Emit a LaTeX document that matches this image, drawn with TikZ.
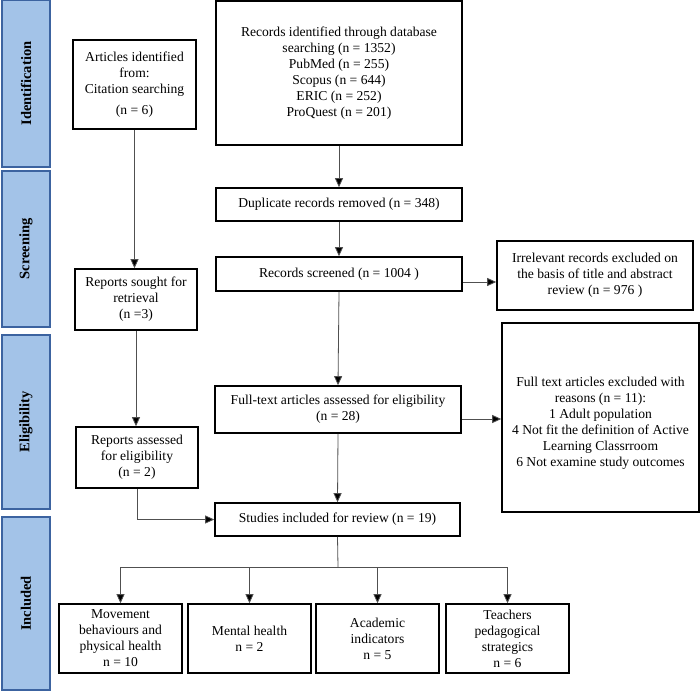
\documentclass[tikz,border=0pt]{standalone}
\usepackage{fontspec}
\setmainfont{Liberation Serif}
\usetikzlibrary{arrows.meta,calc}
\definecolor{barfill}{HTML}{A3C3E8}
\definecolor{barline}{HTML}{3C63A0}
\definecolor{conn}{HTML}{505050}
\tikzset{
  box/.style={draw=black, line width=1.6pt, fill=white, inner sep=0pt, align=center,
    font=\fontsize{13.6}{16}\selectfont},
  bar/.style={draw=barline, line width=1.3pt, fill=barfill, inner sep=0pt,
    minimum width=48pt, font=\fontsize{14.5}{16}\selectfont\bfseries},
  conline/.style={draw=conn, line width=0.8pt},
  arr/.style={conline, -{Triangle[length=9pt,width=8pt,fill=black]}}
}
\begin{document}
\begin{tikzpicture}[x=1pt,y=-1pt]
\useasboundingbox (0,0) rectangle (700,692);
% side bars
\node[bar, minimum height=167pt] (bid) at (26,83.5) {\rotatebox{90}{Identification}};
\node[bar, minimum height=156pt] (bsc) at (26,249) {\rotatebox{90}{Screening}};
\node[bar, minimum height=174pt] (bel) at (26,422) {\rotatebox{90}{Eligibility}};
\node[bar, minimum height=173pt] (bin) at (26,603.5) {\rotatebox{90}{Included}};
% boxes
\node[box, minimum width=246pt, minimum height=144pt] (db) at (339,73)
  {Records identified through database\\searching (n = 1352)\\PubMed (n = 255)\\Scopus (n = 644)\\ERIC (n = 252)\\ProQuest (n = 201)};
\node[box, minimum width=123pt, minimum height=89pt] (art) at (134.5,84.5)
  {Articles identified\\from:\\Citation searching\\[5pt](n = 6)};
\node[box, minimum width=246pt, minimum height=33pt] (dup) at (339,204.5)
  {Duplicate records removed (n = 348)};
\node[box, minimum width=246pt, minimum height=34pt] (scr) at (339,274)
  {Records screened (n = 1004 )};
\node[box, minimum width=196pt, minimum height=69pt] (irr) at (595,275.5)
  {Irrelevant records excluded on\\the basis of title and abstract\\review (n = 976 )};
\node[box, minimum width=122pt, minimum height=61pt] (sought) at (136,299.5)
  {Reports sought for\\retrieval\\(n =3)};
\node[box, minimum width=246pt, minimum height=47pt] (full) at (338,409.5)
  {Full-text articles assessed for eligibility\\(n = 28)};
\node[box, minimum width=197pt, minimum height=189pt] (excl) at (600.5,417.5) {};
\node[align=center, inner sep=0pt, font=\fontsize{13.6}{16}\selectfont] (exclt) at (600.5,423)
  {Full text articles excluded with\\reasons (n = 11):\\1 Adult population\\4 Not fit the definition of Active\\Learning Classrroom\\6 Not examine study outcomes};
\node[box, minimum width=122pt, minimum height=61pt] (ass) at (137,457.5)
  {Reports assessed\\for eligibility\\(n = 2)};
\node[box, minimum width=245pt, minimum height=33pt] (stud) at (337.5,519.5)
  {Studies included for review (n = 19)};
\node[box, minimum width=123pt, minimum height=69pt] (b1) at (120.5,638.5)
  {Movement\\behaviours and\\physical health\\n = 10};
\node[box, minimum width=123pt, minimum height=69pt] (b2) at (249.5,638.5)
  {Mental health\\n = 2};
\node[box, minimum width=123pt, minimum height=69pt] (b3) at (377.5,638.5)
  {Academic\\indicators\\n = 5};
\node[box, minimum width=123pt, minimum height=69pt] (b4) at (507.5,638.5)
  {Teachers\\pedagogical\\strategics\\n = 6};
% connectors
\draw[arr] (db.south) -- (dup.north);
\draw[arr] (dup.south) -- (scr.north);
\draw[arr] (scr.south) -- (full.north);
\draw[arr] (full.south) -- (stud.north);
\draw[arr] (art.south) -- (art.south |- sought.north);
\draw[arr] (sought.south) -- (sought.south |- ass.north);
\draw[arr] (ass.south) |- (stud.west);
\draw[arr] ([yshift=-8pt]scr.east) -- ([yshift=-8pt]scr.east -| irr.west);
\draw[arr] ([yshift=-9.5pt]full.east) -- ([yshift=-9.5pt]full.east -| excl.west);
\coordinate (br) at (338,567);
\draw[conline] (stud.south) -- (br);
\draw[conline] (b1.north |- br) -- (b4.north |- br);
\draw[arr] (b1.north |- br) -- (b1.north);
\draw[arr] (b2.north |- br) -- (b2.north);
\draw[arr] (b3.north |- br) -- (b3.north);
\draw[arr] (b4.north |- br) -- (b4.north);
\end{tikzpicture}
\end{document}
